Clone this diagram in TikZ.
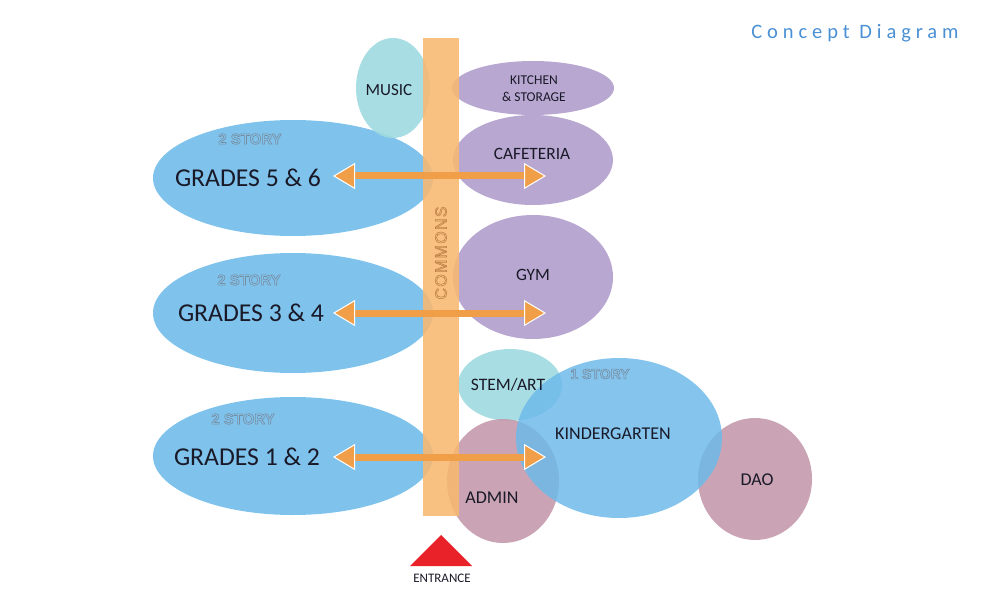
\documentclass[tikz,border=0pt]{standalone}
\usepackage{fontspec}
\setmainfont{Carlito}
\newfontfamily\outfont{Liberation Sans}
\usetikzlibrary{arrows.meta}
\definecolor{gblue}{RGB}{120,192,236}
\definecolor{kblue}{RGB}{110,186,234}
\definecolor{teal}{RGB}{158,218,224}
\definecolor{purp}{RGB}{176,157,203}
\definecolor{mauve}{RGB}{196,154,172}
\definecolor{barc}{RGB}{248,184,112}
\definecolor{arrc}{RGB}{240,158,72}
\definecolor{redc}{RGB}{232,34,40}
\definecolor{titlec}{RGB}{74,144,212}
\definecolor{outc}{RGB}{120,140,160}
\definecolor{commc}{RGB}{190,130,70}
\definecolor{txt}{RGB}{25,25,40}
\newcommand{\outl}[1]{\special{pdf:literal 1 Tr 0.6 w}#1\special{pdf:literal 0 Tr}}
\tikzset{
  lbl/.style={text=txt, font=\fontsize{18}{20}\selectfont, inner sep=0pt},
  story/.style={text=outc, font=\outfont\bfseries\fontsize{15}{17}\selectfont, inner sep=0pt},
  link/.style={draw=arrc, line width=7pt,
    {Triangle[width=26pt,length=22pt,fill=arrc,color=white,line width=1pt]}-{Triangle[width=26pt,length=22pt,fill=arrc,color=white,line width=1pt]}},
}
\begin{document}
\begin{tikzpicture}[x=1pt,y=-1pt]
\useasboundingbox (0,0) rectangle (1008,612);
% rooms
\fill[gblue, fill opacity=0.95] (293,178) ellipse [x radius=140, y radius=58];
\fill[gblue, fill opacity=0.95] (293,313) ellipse [x radius=140, y radius=60];
\fill[gblue, fill opacity=0.95] (293,456) ellipse [x radius=140, y radius=59];
\fill[teal, fill opacity=0.9] (393,88) ellipse [x radius=37, y radius=50];
\fill[purp, fill opacity=0.9] (533,88) ellipse [x radius=81, y radius=27];
\fill[purp, fill opacity=0.9] (533,160) ellipse [x radius=80, y radius=45];
\fill[purp, fill opacity=0.9] (533,277) ellipse [x radius=80, y radius=62];
\fill[teal, fill opacity=0.9] (510,385) ellipse [x radius=52, y radius=36];
\fill[mauve, fill opacity=0.9] (503,481) ellipse [x radius=56, y radius=62];
\fill[mauve, fill opacity=0.9] (755,479) ellipse [x radius=57, y radius=61];
\fill[kblue, fill opacity=0.85] (619,438) ellipse [x radius=103, y radius=80];
% commons bar
\fill[barc, fill opacity=0.88] (423,38) rectangle (459,516);
\node[text=commc, font=\outfont\fontsize{16}{18}\selectfont\addfontfeature{LetterSpace=8}, rotate=90, inner sep=0pt] (commons) at (441,253) {\outl{COMMONS}};
% arrow end points
\coordinate (a5l) at (333,176); \coordinate (a5r) at (546,176);
\coordinate (a3l) at (333,313); \coordinate (a3r) at (546,313);
\coordinate (a1l) at (333,457); \coordinate (a1r) at (546,457);
\draw[link] (a5l) -- (a5r);
\draw[link] (a3l) -- (a3r);
\draw[link] (a1l) -- (a1r);
% labels
\node[lbl, font=\fontsize{25.7}{28}\selectfont] (g56) at (248,178) {GRADES 5 \& 6};
\node[lbl, font=\fontsize{25.7}{28}\selectfont] (g34) at (251,313) {GRADES 3 \& 4};
\node[lbl, font=\fontsize{25.7}{28}\selectfont] (g12) at (247,457) {GRADES 1 \& 2};
\node[story] (s56) at (250,139) {\outl{2 STORY}};
\node[story] (s34) at (249,280) {\outl{2 STORY}};
\node[story] (s12) at (243,419) {\outl{2 STORY}};
\node[story, font=\outfont\bfseries\fontsize{14}{16}\selectfont] (s1) at (600,374) {\outl{1 STORY}};
\node[lbl, font=\fontsize{17}{19}\selectfont] (music) at (389,90) {MUSIC};
\node[lbl, font=\fontsize{13.5}{17}\selectfont, align=center] (kitchen) at (534,89) {KITCHEN\\\& STORAGE};
\node[lbl, font=\fontsize{17.3}{19}\selectfont] (cafe) at (532,154) {CAFETERIA};
\node[lbl, font=\fontsize{17.3}{19}\selectfont] (gym) at (533,275) {GYM};
\node[lbl, font=\fontsize{17.5}{19}\selectfont] (stem) at (508,385) {STEM/ART};
\node[lbl] (kinder) at (613,434) {KINDERGARTEN};
\node[lbl] (admin) at (492,498) {ADMIN};
\node[lbl] (dao) at (757,480) {DAO};
% entrance
\fill[redc] (410,566) -- (441,535) -- (472,566) -- cycle;
\node[lbl, font=\fontsize{13}{15}\selectfont] (entrance) at (442,578) {ENTRANCE};
% title
\node[text=titlec, font=\fontsize{20.5}{24}\selectfont\addfontfeature{LetterSpace=24}, inner sep=0pt] (title) at (855,33) {Concept Diagram};
\end{tikzpicture}
\end{document}
